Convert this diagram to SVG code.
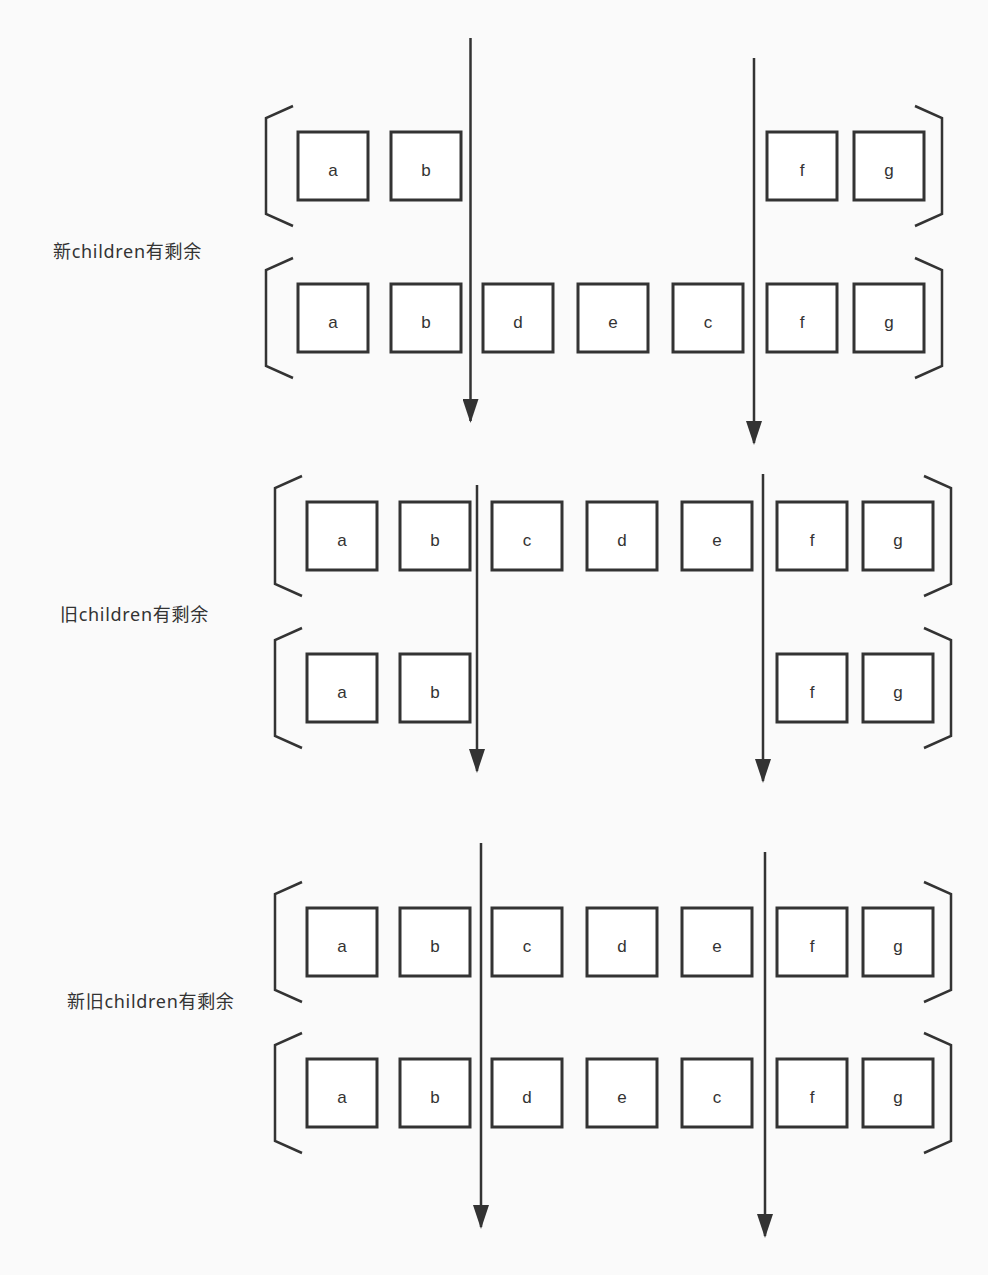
<svg xmlns="http://www.w3.org/2000/svg" width="988" height="1275" viewBox="0 0 988 1275">
<style>
.bg{fill:#fafafa}
.box{fill:#ffffff;stroke:#333333;stroke-width:3}
.br{fill:none;stroke:#333333;stroke-width:2.5}
.t{font-family:"Liberation Sans","Noto Sans",sans-serif;font-size:17px;fill:#333333;text-anchor:middle}
.lbl{font-family:"Noto Sans","Noto Sans CJK SC",sans-serif;font-size:18px;fill:#333333;letter-spacing:0.7px}
.ln{stroke:#333333;stroke-width:2.5;fill:none}
</style>
<defs>
<marker id="ah" markerUnits="userSpaceOnUse" markerWidth="24" markerHeight="16" refX="22" refY="8" orient="auto" viewBox="0 0 24 16">
<path d="M0,0 L24,8 L0,16 Z" fill="#333333"/>
</marker>
</defs>
<rect class="bg" x="0" y="0" width="988" height="1275"/>

<g id="labels">
<text class="lbl" x="53" y="258">新children有剩余</text>
<text class="lbl" x="60" y="621">旧children有剩余</text>
<text class="lbl" x="67" y="1008">新旧children有剩余</text>
</g>

<g id="brackets">
<path class="br" d="M293,106 L266,118 L266,214 L293,226"/>
<path class="br" d="M915,106 L942,118 L942,214 L915,226"/>
<path class="br" d="M293,258 L266,270 L266,366 L293,378"/>
<path class="br" d="M915,258 L942,270 L942,366 L915,378"/>
<path class="br" d="M302,476 L275,488 L275,584 L302,596"/>
<path class="br" d="M924,476 L951,488 L951,584 L924,596"/>
<path class="br" d="M302,628 L275,640 L275,736 L302,748"/>
<path class="br" d="M924,628 L951,640 L951,736 L924,748"/>
<path class="br" d="M302,882 L275,894 L275,990 L302,1002"/>
<path class="br" d="M924,882 L951,894 L951,990 L924,1002"/>
<path class="br" d="M302,1033 L275,1045 L275,1141 L302,1153"/>
<path class="br" d="M924,1033 L951,1045 L951,1141 L924,1153"/>
</g>

<g id="s1r1">
<g id="n1a"><rect class="box" x="298" y="132" width="70" height="68"/><text class="t" x="333" y="176">a</text></g>
<g id="n1b"><rect class="box" x="391" y="132" width="70" height="68"/><text class="t" x="426" y="176">b</text></g>
<g id="n1f"><rect class="box" x="767" y="132" width="70" height="68"/><text class="t" x="802" y="176">f</text></g>
<g id="n1g"><rect class="box" x="854" y="132" width="70" height="68"/><text class="t" x="889" y="176">g</text></g>
</g>
<g id="s1r2">
<g id="n2a"><rect class="box" x="298" y="284" width="70" height="68"/><text class="t" x="333" y="328">a</text></g>
<g id="n2b"><rect class="box" x="391" y="284" width="70" height="68"/><text class="t" x="426" y="328">b</text></g>
<g id="n2d"><rect class="box" x="483" y="284" width="70" height="68"/><text class="t" x="518" y="328">d</text></g>
<g id="n2e"><rect class="box" x="578" y="284" width="70" height="68"/><text class="t" x="613" y="328">e</text></g>
<g id="n2c"><rect class="box" x="673" y="284" width="70" height="68"/><text class="t" x="708" y="328">c</text></g>
<g id="n2f"><rect class="box" x="767" y="284" width="70" height="68"/><text class="t" x="802" y="328">f</text></g>
<g id="n2g"><rect class="box" x="854" y="284" width="70" height="68"/><text class="t" x="889" y="328">g</text></g>
</g>

<g id="s2r1">
<g id="n3a"><rect class="box" x="307" y="502" width="70" height="68"/><text class="t" x="342" y="546">a</text></g>
<g id="n3b"><rect class="box" x="400" y="502" width="70" height="68"/><text class="t" x="435" y="546">b</text></g>
<g id="n3c"><rect class="box" x="492" y="502" width="70" height="68"/><text class="t" x="527" y="546">c</text></g>
<g id="n3d"><rect class="box" x="587" y="502" width="70" height="68"/><text class="t" x="622" y="546">d</text></g>
<g id="n3e"><rect class="box" x="682" y="502" width="70" height="68"/><text class="t" x="717" y="546">e</text></g>
<g id="n3f"><rect class="box" x="777" y="502" width="70" height="68"/><text class="t" x="812" y="546">f</text></g>
<g id="n3g"><rect class="box" x="863" y="502" width="70" height="68"/><text class="t" x="898" y="546">g</text></g>
</g>
<g id="s2r2">
<g id="n4a"><rect class="box" x="307" y="654" width="70" height="68"/><text class="t" x="342" y="698">a</text></g>
<g id="n4b"><rect class="box" x="400" y="654" width="70" height="68"/><text class="t" x="435" y="698">b</text></g>
<g id="n4f"><rect class="box" x="777" y="654" width="70" height="68"/><text class="t" x="812" y="698">f</text></g>
<g id="n4g"><rect class="box" x="863" y="654" width="70" height="68"/><text class="t" x="898" y="698">g</text></g>
</g>

<g id="s3r1">
<g id="n5a"><rect class="box" x="307" y="908" width="70" height="68"/><text class="t" x="342" y="952">a</text></g>
<g id="n5b"><rect class="box" x="400" y="908" width="70" height="68"/><text class="t" x="435" y="952">b</text></g>
<g id="n5c"><rect class="box" x="492" y="908" width="70" height="68"/><text class="t" x="527" y="952">c</text></g>
<g id="n5d"><rect class="box" x="587" y="908" width="70" height="68"/><text class="t" x="622" y="952">d</text></g>
<g id="n5e"><rect class="box" x="682" y="908" width="70" height="68"/><text class="t" x="717" y="952">e</text></g>
<g id="n5f"><rect class="box" x="777" y="908" width="70" height="68"/><text class="t" x="812" y="952">f</text></g>
<g id="n5g"><rect class="box" x="863" y="908" width="70" height="68"/><text class="t" x="898" y="952">g</text></g>
</g>
<g id="s3r2">
<g id="n6a"><rect class="box" x="307" y="1059" width="70" height="68"/><text class="t" x="342" y="1103">a</text></g>
<g id="n6b"><rect class="box" x="400" y="1059" width="70" height="68"/><text class="t" x="435" y="1103">b</text></g>
<g id="n6d"><rect class="box" x="492" y="1059" width="70" height="68"/><text class="t" x="527" y="1103">d</text></g>
<g id="n6e"><rect class="box" x="587" y="1059" width="70" height="68"/><text class="t" x="622" y="1103">e</text></g>
<g id="n6c"><rect class="box" x="682" y="1059" width="70" height="68"/><text class="t" x="717" y="1103">c</text></g>
<g id="n6f"><rect class="box" x="777" y="1059" width="70" height="68"/><text class="t" x="812" y="1103">f</text></g>
<g id="n6g"><rect class="box" x="863" y="1059" width="70" height="68"/><text class="t" x="898" y="1103">g</text></g>
</g>

<g id="connectors">
<line class="ln" x1="470.5" y1="38" x2="470.5" y2="421" marker-end="url(#ah)"/>
<line class="ln" x1="754" y1="58" x2="754" y2="443" marker-end="url(#ah)"/>
<line class="ln" x1="477" y1="485" x2="477" y2="771" marker-end="url(#ah)"/>
<line class="ln" x1="763" y1="474" x2="763" y2="781" marker-end="url(#ah)"/>
<line class="ln" x1="481" y1="843" x2="481" y2="1227" marker-end="url(#ah)"/>
<line class="ln" x1="765" y1="852" x2="765" y2="1236" marker-end="url(#ah)"/>
</g>
</svg>
